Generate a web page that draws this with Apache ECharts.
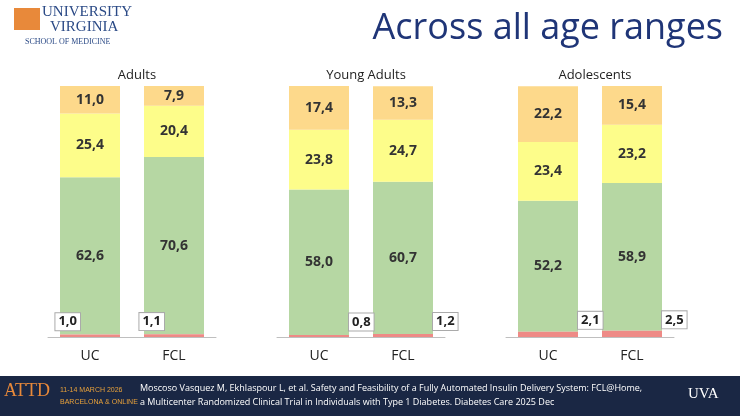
<!DOCTYPE html>
<html><head><meta charset="utf-8">
<script src="https://cdn.jsdelivr.net/npm/echarts@6/dist/echarts.min.js"></script>
<style>html,body{margin:0;padding:0;background:#fff}#c{width:740px;height:416px}</style>
</head><body><div id="c"></div>
<script>
// data
var groups = ['Adults', 'Young Adults', 'Adolescents'];
var categories = ['UC', 'FCL'];
var red = [[1.0, 1.1], [0.8, 1.2], [2.1, 2.5]];
var green = [[62.6, 70.6], [58.0, 60.7], [52.2, 58.9]];
var yellow = [[25.4, 20.4], [23.8, 24.7], [23.4, 23.2]];
var orange = [[11.0, 7.9], [17.4, 13.3], [22.2, 15.4]];

var colors = {red: '#ee8a86', green: '#b6d7a3', yellow: '#fdfd8a', orange: '#fdd98b'};
var gridLeft = [48, 277, 506];
var fmt = function (p) { return p.value.toFixed(1).replace('.', ','); };

var grid = [], xAxis = [], yAxis = [], series = [], title = [];
groups.forEach(function (g, i) {
  grid.push({left: gridLeft[i], width: 168, top: 86, bottom: 79});
  xAxis.push({type: 'category', gridIndex: i, data: categories,
    axisLine: {lineStyle: {color: '#bfbfbf'}}, axisTick: {show: false},
    axisLabel: {color: '#222', fontSize: 14, margin: 12, fontFamily: 'Open Sans'}});
  yAxis.push({type: 'value', gridIndex: i, min: 0, max: 100, show: false});
  title.push({text: g, left: gridLeft[i] + 84, top: 64, textAlign: 'center',
    textStyle: {fontSize: 13, fontWeight: 'normal', color: '#222', fontFamily: 'Open Sans'}});
  var lbl = {show: true, formatter: fmt, fontSize: 14, fontWeight: 'bold', color: '#333', fontFamily: 'Open Sans'};
  var redLbl = {show: true, formatter: fmt, fontSize: 13, fontWeight: 'bold', color: '#222', fontFamily: 'Open Sans',
    backgroundColor: '#fff', borderColor: '#aaa', borderWidth: 1, padding: [2, 3],
    position: i === 0 ? 'left' : 'right', distance: i === 0 ? -20 : 0, offset: [0, -14]};
  [['red', red, redLbl], ['green', green, lbl], ['yellow', yellow, lbl], ['orange', orange, lbl]].forEach(function (s) {
    series.push({type: 'bar', stack: 'g' + i, xAxisIndex: i, yAxisIndex: i, barWidth: 60,
      data: s[1][i], itemStyle: {color: colors[s[0]]},
      label: s[0] === 'red' ? s[2] : Object.assign({position: 'inside'}, s[2]), z: s[0] === 'red' ? 3 : 2});
  });
});

var chart = echarts.init(document.getElementById('c'));
chart.setOption({
  animation: false,
  title: title.concat([{text: 'Across all age ranges', right: 12, top: 6,
    textStyle: {fontSize: 36, fontWeight: 'normal', color: '#1f3577', fontFamily: 'Open Sans'}}]),
  grid: grid, xAxis: xAxis, yAxis: yAxis, series: series,
  graphic: [
    {type: 'rect', shape: {x: 14, y: 8, width: 26, height: 22}, style: {fill: '#e8893a'}},
    {type: 'text', left: 42, top: 5, style: {text: 'UNIVERSITY', fontSize: 15, fill: '#2b4a86', fontFamily: 'Liberation Serif'}},
    {type: 'text', left: 50, top: 20, style: {text: 'VIRGINIA', fontSize: 15, fill: '#2b4a86', fontFamily: 'Liberation Serif'}},
    {type: 'text', left: 25, top: 38, style: {text: 'SCHOOL OF MEDICINE', fontSize: 8, fill: '#2b4a86', fontFamily: 'Liberation Serif'}},
    {type: 'rect', shape: {x: 0, y: 376, width: 740, height: 40}, style: {fill: '#1a2744'}},
    {type: 'text', left: 4, top: 382, style: {text: 'ATTD', fontSize: 18, fill: '#e8893a', fontFamily: 'Liberation Serif'}},
    {type: 'text', left: 60, top: 384, style: {text: '11-14 MARCH 2026\nBARCELONA & ONLINE', fontSize: 7, lineHeight: 12, fill: '#e8a13a', fontFamily: 'Liberation Sans'}},
    {type: 'text', left: 140, top: 381, style: {text: 'Moscoso Vasquez M, Ekhlaspour L, et al. Safety and Feasibility of a Fully Automated Insulin Delivery System: FCL@Home,\na Multicenter Randomized Clinical Trial in Individuals with Type 1 Diabetes. Diabetes Care 2025 Dec', fontSize: 9, lineHeight: 14, fill: '#fff', fontFamily: 'Open Sans'}},
    {type: 'text', left: 688, top: 387, style: {text: 'UVA', fontSize: 15, fill: '#fff', fontFamily: 'Liberation Serif'}}
  ]
});
</script></body></html>
